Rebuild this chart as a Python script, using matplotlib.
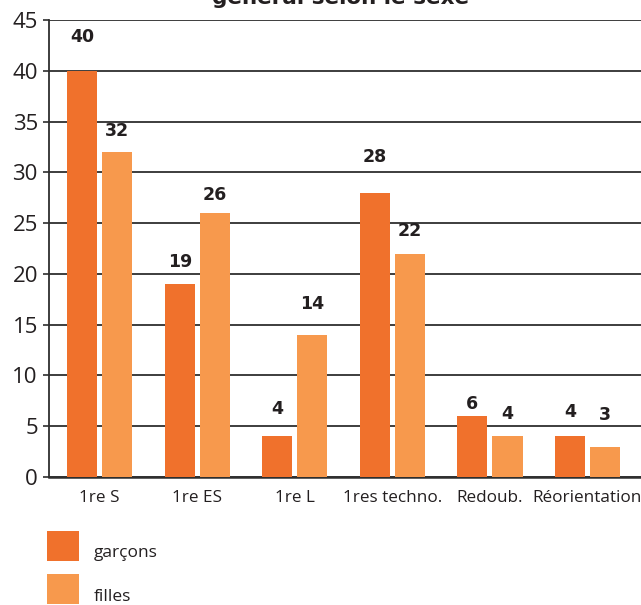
import matplotlib.pyplot as plt
import numpy as np

categories = ['1re S', '1re ES', '1re L', '1res techno.', 'Redoub.', 'Réorientation']
garcons = [40, 19, 4, 28, 6, 4]
filles = [32, 26, 14, 22, 4, 3]
series_labels = ['garçons', 'filles']
title = 'général selon le sexe'

# label gap above each bar, in points (the source places them by hand)
gap_garcons = [18, 9.5, 13, 19.5, 2.5, 11]
gap_filles = [8.5, 6.5, 16, 10, 9.5, 16.5]

col_g = '#F0712C'
col_f = '#F7994D'
ink = '#231F20'

plt.rcParams['font.family'] = ['Open Sans', 'DejaVu Sans']

fig = plt.figure(figsize=(6.41, 6.05), dpi=100)
ax = fig.add_axes([49 / 641, 128 / 605, 592 / 641, 457 / 605])

x = np.arange(len(categories))
w = 0.31
off = 0.18
bars_g = ax.bar(x - off, garcons, w, color=col_g, label=series_labels[0], zorder=3)
bars_f = ax.bar(x + off, filles, w, color=col_f, label=series_labels[1], zorder=3)

for bars, vals, gaps in ((bars_g, garcons, gap_garcons), (bars_f, filles, gap_filles)):
    for b, v, g in zip(bars, vals, gaps):
        ax.annotate(f'{v}', (b.get_x() + b.get_width() / 2, v), xytext=(0, g),
                    textcoords='offset points', ha='center', va='bottom',
                    fontsize=12.5, fontweight='bold', family='DejaVu Sans',
                    color=ink)

ax.set_xlim(-0.52, 5.55)
ax.set_ylim(0, 45)
ax.set_yticks(np.arange(0, 46, 5))
ax.yaxis.grid(True, color='#2e2e2e', linewidth=1.3, zorder=0)
ax.set_axisbelow(True)

ax.spines['top'].set_visible(False)
ax.spines['right'].set_visible(False)
ax.spines['left'].set_color('#2e2e2e')
ax.spines['left'].set_linewidth(1.3)
ax.spines['bottom'].set_color('#2e2e2e')
ax.spines['bottom'].set_linewidth(1.8)

ax.tick_params(axis='y', length=4.5, width=1.2, color='#2e2e2e', pad=3.5,
               labelsize=16, labelcolor=ink)
ax.tick_params(axis='x', length=0, pad=9, labelsize=12.3, labelcolor=ink)
ax.set_xticks(x)
ax.set_xticklabels(categories)

fig.text(341 / 641, 1 - 4 / 605, title, ha='center', va='baseline',
         fontsize=15.5, fontweight='bold', family='DejaVu Sans', color=ink)

leg = fig.legend(handles=[bars_g, bars_f], labels=series_labels, loc='upper left',
                 bbox_to_anchor=(47 / 641, 1 - 531 / 605), bbox_transform=fig.transFigure,
                 frameon=False, borderpad=0, borderaxespad=0, fontsize=12.5,
                 handlelength=1.85, handleheight=2.3, handletextpad=0.85, labelspacing=0.75,
                 labelcolor=ink)
for t in leg.get_texts():
    t.set_y(-6)

plt.savefig('out.png', dpi=100)
plt.close()
